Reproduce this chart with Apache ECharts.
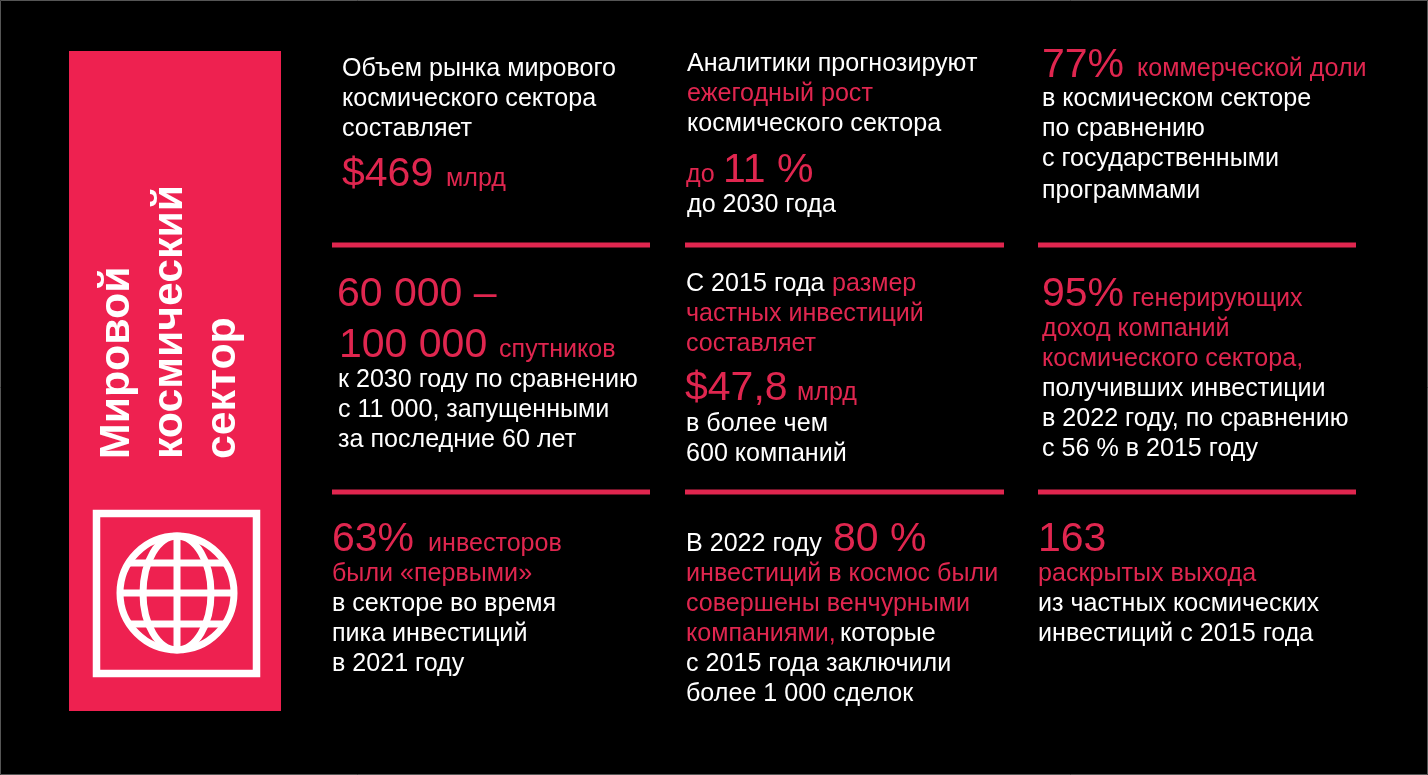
<!DOCTYPE html>
<html lang="ru">
<head>
    <meta charset="UTF-8">
    <title>Мировой космический сектор</title>
    <script src="https://cdn.jsdelivr.net/npm/echarts@6/dist/echarts.min.js"></script>
</head>
<style>
    body{
        margin: 0;
        padding: 0;
        background: #000;
    }
</style>
<body>
<div id="main" style="width: 1428px;height:775px;"></div>
<script>
    // тексты блоков
    var titleLines = ['Мировой', 'космический', 'сектор'];
    var marketSize = ['Объем рынка мирового', 'космического сектора', 'составляет', '$469', 'млрд'];
    var growth = ['Аналитики прогнозируют', 'ежегодный рост', 'космического сектора', 'до', '11 %', 'до 2030 года'];
    var commercial = ['77%', 'коммерческой доли', 'в космическом секторе', 'по сравнению', 'с государственными', 'программами'];
    var satellites = ['60 000 –', '100 000', 'спутников', 'к 2030 году по сравнению', 'с 11 000, запущенными', 'за последние 60 лет'];
    var investments = ['С 2015 года', 'размер', 'частных инвестиций', 'составляет', '$47,8', 'млрд', 'в более чем', '600 компаний'];
    var revenue = ['95%', 'генерирующих', 'доход компаний', 'космического сектора,', 'получивших инвестиции', 'в 2022 году, по сравнению', 'с 56 % в 2015 году'];
    var investors = ['63%', 'инвесторов', 'были «первыми»', 'в секторе во время', 'пика инвестиций', 'в 2021 году'];
    var venture = ['В 2022 году', '80 %', 'инвестиций в космос были', 'совершены венчурными', 'компаниями,', 'которые', 'с 2015 года заключили', 'более 1 000 сделок'];
    var exits = ['163', 'раскрытых выхода', 'из частных космических', 'инвестиций с 2015 года'];

    var RED = '#ee2150';
    var TEXT_RED = '#e0264f';
    var FONT = '"Liberation Sans", Arial, sans-serif';
    var styles = {
        w: {size: 25.1, color: '#fff'},
        r: {size: 25.1, color: TEXT_RED},
        b: {size: 41, color: TEXT_RED}
    };

    // расположение: x, базовая линия, стиль - по одному на строку текста
    var blocks = [
        [marketSize, [[342, 75, 'w'], [342, 105, 'w'], [342, 135, 'w'], [342, 185, 'b'], [446, 185, 'r']]],
        [growth, [[687, 70, 'w'], [687, 100, 'r'], [687, 130, 'w'], [686, 181, 'r'], [723, 181, 'b'], [687, 211, 'w']]],
        [commercial, [[1042, 76, 'b'], [1137, 75, 'r'], [1042, 105, 'w'], [1042, 135, 'w'], [1042, 165, 'w'], [1042, 197, 'w']]],
        [satellites, [[337, 305, 'b'], [339, 356, 'b'], [499, 356, 'r'], [338, 386, 'w'], [338, 416, 'w'], [338, 446, 'w']]],
        [investments, [[686, 290, 'w'], [832, 290, 'r'], [686, 320, 'r'], [686, 350, 'r'], [685, 399, 'b'], [797, 399, 'r'], [686, 430, 'w'], [686, 460, 'w']]],
        [revenue, [[1042, 305, 'b'], [1132, 305, 'r'], [1042, 335, 'r'], [1042, 365, 'r'], [1042, 395, 'w'], [1042, 425, 'w'], [1042, 455, 'w']]],
        [investors, [[332, 550, 'b'], [428, 550, 'r'], [332, 580, 'r'], [332, 610, 'w'], [332, 640, 'w'], [332, 670, 'w']]],
        [venture, [[686, 550, 'w'], [833, 550, 'b'], [686, 580, 'r'], [686, 610, 'r'], [686, 640, 'r'], [840, 640, 'w'], [686, 670, 'w'], [686, 700, 'w']]],
        [exits, [[1038, 550, 'b'], [1038, 580, 'r'], [1038, 610, 'w'], [1038, 640, 'w']]]
    ];
    var ruleCols = [[332, 650], [685, 1004], [1038, 1356]];
    var ruleRows = [245, 492];

    var elements = [];

    // тонкая серая рамка по краю картинки
    elements.push({type: 'rect', shape: {x: 0.5, y: 0.5, width: 1427, height: 774}, style: {stroke: '#555', lineWidth: 1, fill: null}});

    elements.push({type: 'rect', shape: {x: 69, y: 51, width: 212, height: 660}, style: {fill: RED}});

    // заголовок повернут на 90 градусов
    var titleSize = 42.8;
    var titleX = [129, 181.5, 235];
    titleLines.forEach(function (line, i) {
        elements.push({
            type: 'text', x: titleX[i] - titleSize * 0.27, y: 459, rotation: Math.PI / 2,
            style: {text: line, x: 0, y: 0, fill: '#fff', font: 'bold ' + titleSize + 'px ' + FONT, align: 'left', verticalAlign: 'middle'}
        });
    });

    // значок с глобусом
    var line = {stroke: '#fff', lineWidth: 7, fill: null};
    elements.push({type: 'rect', shape: {x: 96.5, y: 513.5, width: 160, height: 160}, style: {stroke: '#fff', lineWidth: 7.5, fill: null}});
    elements.push({type: 'circle', shape: {cx: 177, cy: 593, r: 57}, style: line});
    elements.push({type: 'ellipse', shape: {cx: 177, cy: 593, rx: 34, ry: 57}, style: line});
    elements.push({type: 'line', shape: {x1: 177, y1: 536, x2: 177, y2: 650}, style: line});
    elements.push({type: 'line', shape: {x1: 120, y1: 593, x2: 234, y2: 593}, style: line});
    elements.push({type: 'line', shape: {x1: 128, y1: 563, x2: 226, y2: 563}, style: line});
    elements.push({type: 'line', shape: {x1: 128, y1: 624, x2: 226, y2: 624}, style: line});

    ruleRows.forEach(function (y) {
        ruleCols.forEach(function (c) {
            elements.push({type: 'rect', shape: {x: c[0], y: y - 2.5, width: c[1] - c[0], height: 5}, style: {fill: TEXT_RED}});
        });
    });

    blocks.forEach(function (block) {
        block[0].forEach(function (text, i) {
            var pos = block[1][i];
            var st = styles[pos[2]];
            elements.push({
                type: 'text',
                style: {
                    text: text,
                    x: pos[0],
                    y: pos[1] - st.size * 0.25,
                    fill: st.color,
                    font: st.size + 'px ' + FONT,
                    align: 'left',
                    verticalAlign: 'middle'
                }
            });
        });
    });

    var chart = echarts.init(document.getElementById('main'));
    chart.setOption({
        backgroundColor: '#000',
        animation: false,
        graphic: {elements: elements}
    });
</script>
</body>
</html>
